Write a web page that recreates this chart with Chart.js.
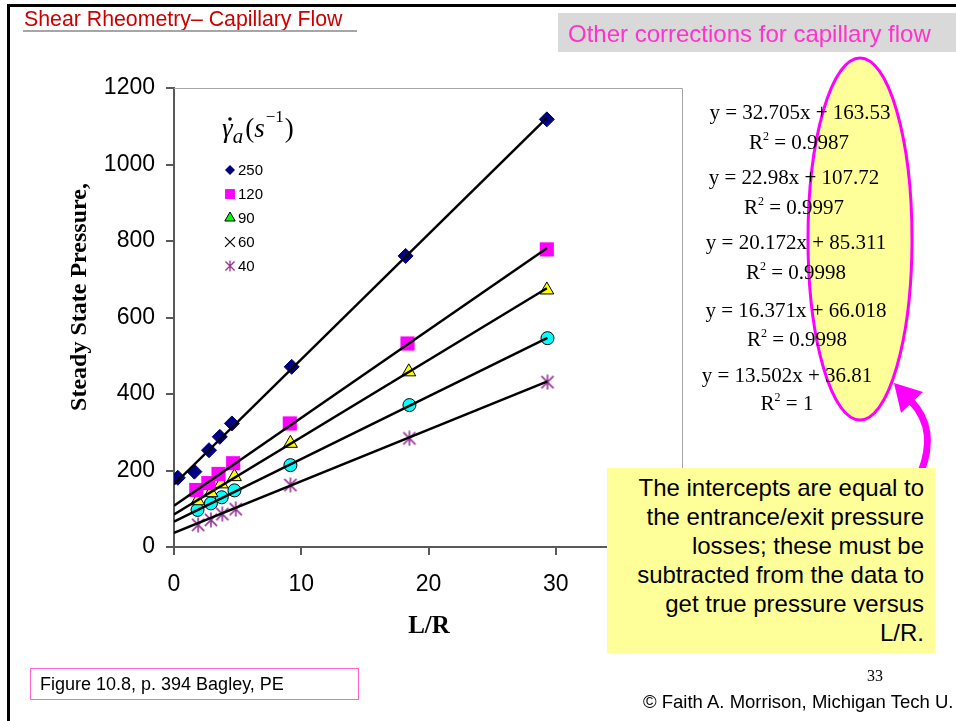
<!DOCTYPE html>
<html>
<head>
<meta charset="utf-8">
<script src="https://cdn.jsdelivr.net/npm/chart.js@4.4.0/dist/chart.umd.min.js"></script>
<style>
  html, body { margin: 0; padding: 0; background: #fff; }
  #slide { position: relative; width: 956px; height: 721px; overflow: hidden; font-family: "Liberation Sans", Arial, sans-serif; }
  #chart { position: absolute; left: 0; top: 0; }
  .abs { position: absolute; white-space: nowrap; }
  .eq { position: absolute; white-space: nowrap; font-family: "Liberation Serif", "Times New Roman", serif; font-size: 21px; line-height: 1; transform: translate(-50%, -50%); color: #000; }
  .eq sup { font-size: 12px; vertical-align: 9px; line-height: 0; }
</style>
</head>
<body>
<div id="slide">
  <canvas id="chart" width="956" height="721"></canvas>

  <!-- slide frame -->
  <div class="abs" style="left:7px;top:4px;width:949px;height:3px;background:#000;"></div>
  <div class="abs" style="left:7px;top:4px;width:3px;height:717px;background:#000;"></div>

  <div class="abs" style="left:24px;top:9px;font-size:21.3px;line-height:21px;color:#CC0000;">Shear Rheometry– Capillary Flow</div>
  <div class="abs" style="left:23px;top:30px;width:334px;height:2px;background:#A6A6A6;"></div>

  <div class="abs" style="left:558px;top:13px;width:398px;height:39px;background:#D9D9D9;"></div>
  <div class="abs" style="left:568px;top:13px;font-size:24px;line-height:41px;color:#FF33CC;">Other corrections for capillary flow</div>

  <svg class="abs" style="left:0;top:0;" width="956" height="721">
    <ellipse cx="860" cy="239" rx="52" ry="181" fill="#FFFF99" stroke="#FF00FF" stroke-width="3"/>
    <path d="M 921 472 C 931 446, 931 422, 911 401" fill="none" stroke="#FF00FF" stroke-width="7"/>
    <polygon points="894,383 901,413 923,392" fill="#FF00FF"/>
  </svg>

  <div id="eqs"></div>

  <div class="abs" style="left:607px;top:468px;width:317px;height:180px;padding:5px 11px 0 0;background:#FFFF99;text-align:right;font-size:24px;line-height:29px;color:#000;">The intercepts are equal to<br>the entrance/exit pressure<br>losses; these must be<br>subtracted from the data to<br>get true pressure versus<br>L/R.</div>

  <div class="abs" style="left:867px;top:668px;font-family:'Liberation Serif',serif;font-size:16px;line-height:16px;">33</div>
  <div class="abs" style="left:643px;top:692px;font-size:18.5px;line-height:20px;">© Faith A. Morrison, Michigan Tech U.</div>
  <div class="abs" style="left:30px;top:668px;width:318px;height:30px;border:1.5px solid #FF66CC;padding-left:9px;font-size:18px;line-height:30px;">Figure 10.8, p. 394 Bagley, PE</div>
</div>

<script>
// L/R and steady state pressure, one pair of arrays per shear rate
const lr250 = [0.3, 1.6, 2.75, 3.6, 4.55, 9.25, 18.2, 29.3];
const p250 = [181, 197, 253, 288, 323, 471, 761, 1118];
const lr120 = [1.75, 2.7, 3.5, 4.65, 9.1, 18.35, 29.3];
const p120 = [149, 167, 191, 219, 323, 532, 778];
const lr90 = [1.85, 2.9, 3.7, 4.75, 9.15, 18.45, 29.3];
const p90 = [121, 142, 165, 184, 271, 458, 672];
const lr60 = [1.85, 2.9, 3.75, 4.75, 9.15, 18.5, 29.35];
const p60 = [97, 114, 130, 148, 214, 371, 546];
const lr40 = [1.9, 2.9, 3.8, 4.85, 9.15, 18.5, 29.35];
const p40 = [58, 71, 86, 99, 162, 284, 431];

const shearRates = ['250', '120', '90', '60', '40'];
const slopes = [32.705, 22.98, 20.172, 16.371, 13.502];
const intercepts = [163.53, 107.72, 85.311, 66.018, 36.81];
const rSquared = [0.9987, 0.9997, 0.9998, 0.9998, 1];

const xMax = 40, xStep = 10;
const yMax = 1200, yStep = 200;

// equation label positions (centres)
const eqPos = [
  [800, 112, 799, 142], [794, 177, 794, 207], [796, 242, 796, 272],
  [796, 310, 797, 339], [787, 375, 787, 403]
];

(function () {
  'use strict';

  const eqBox = document.getElementById('eqs');
  slopes.forEach((m, i) => {
    const p = eqPos[i];
    eqBox.insertAdjacentHTML('beforeend',
      `<div class="eq" style="left:${p[0]}px;top:${p[1]}px;">y = ${m}x + ${intercepts[i]}</div>` +
      `<div class="eq" style="left:${p[2]}px;top:${p[3]}px;">R<sup>2</sup> = ${rSquared[i]}</div>`);
  });

  function asterisk(size, color, lw) {
    const c = document.createElement('canvas');
    c.width = size; c.height = size;
    const g = c.getContext('2d');
    const h = size / 2, d = size * 0.38;
    g.strokeStyle = color; g.lineWidth = lw;
    g.beginPath();
    g.moveTo(h - d, h - d); g.lineTo(h + d, h + d);
    g.moveTo(h + d, h - d); g.lineTo(h - d, h + d);
    g.moveTo(h, 0.5); g.lineTo(h, size - 0.5);
    g.stroke();
    return c;
  }

  const xs = [lr250, lr120, lr90, lr60, lr40];
  const ys = [p250, p120, p90, p60, p40];

  const markers = [
    { pointStyle: 'rectRot', pointRadius: 7.5, backgroundColor: '#000080', borderColor: '#000080', borderWidth: 1 },
    { pointStyle: 'rect', pointRadius: 10, backgroundColor: '#FF00FF', borderColor: '#FF00FF', borderWidth: 0 },
    { pointStyle: 'triangle', pointRadius: 8, backgroundColor: '#FFFF00', borderColor: '#000000', borderWidth: 1 },
    { pointStyle: 'circle', pointRadius: 6.5, backgroundColor: '#00FFFF', borderColor: '#000000', borderWidth: 1 },
    { pointStyle: asterisk(16, '#993399', 1.6), pointRadius: 8, backgroundColor: '#993399', borderColor: '#993399', borderWidth: 0 }
  ];

  const legendMarks = [
    { style: 'rectRot', r: 5, fill: '#000080', stroke: '#000080', bw: 0 },
    { style: 'rect', r: 7, fill: '#FF00FF', stroke: '#FF00FF', bw: 0 },
    { style: 'triangle', r: 6, fill: '#00FF00', stroke: '#000000', bw: 1 },
    { style: 'crossRot', r: 7, fill: '#000000', stroke: '#000000', bw: 1.2 },
    { style: asterisk(12, '#993399', 1.3), r: 6, fill: '#993399', stroke: '#993399', bw: 0 }
  ];

  const datasets = [];
  shearRates.forEach((name, i) => {
    const last = xs[i][xs[i].length - 1];
    datasets.push({
      label: 'fit ' + name,
      data: [{ x: 0, y: intercepts[i] }, { x: last, y: slopes[i] * last + intercepts[i] }],
      showLine: true,
      borderColor: '#000000',
      borderWidth: 2.5,
      pointRadius: 0,
      order: 0
    });
  });
  shearRates.forEach((name, i) => {
    datasets.push(Object.assign({
      label: name,
      data: xs[i].map((x, j) => ({ x: x, y: ys[i][j] })),
      showLine: false,
      order: 1
    }, markers[i]));
  });

  const decor = {
    id: 'decor',
    beforeDatasetsDraw(chart) {
      const { ctx, chartArea: a } = chart;
      ctx.save();
      ctx.strokeStyle = '#A6A6A6';
      ctx.lineWidth = 1;
      ctx.beginPath();
      ctx.moveTo(a.left, a.top + 0.5);
      ctx.lineTo(a.right - 0.5, a.top + 0.5);
      ctx.lineTo(a.right - 0.5, a.bottom);
      ctx.stroke();
      ctx.restore();
    },
    afterDraw(chart) {
      const ctx = chart.ctx;
      ctx.save();
      ctx.fillStyle = '#000';
      ctx.textAlign = 'center';
      ctx.textBaseline = 'middle';

      // axis titles
      ctx.font = 'bold 25px "Liberation Serif"';
      ctx.fillText('L/R', 429, 627);
      ctx.translate(80, 297);
      ctx.rotate(-Math.PI / 2);
      ctx.font = 'bold 24px "Liberation Serif"';
      ctx.fillText('Steady State Pressure,', 0, 0);
      ctx.setTransform(1, 0, 0, 1, 0, 0);

      // legend title: gamma-dot_a (s^-1)
      ctx.textAlign = 'left';
      ctx.textBaseline = 'alphabetic';
      let x = 222;
      const base = 137;
      ctx.font = 'italic 27px "Liberation Serif"';
      ctx.fillText('γ', x, base);
      ctx.beginPath();
      ctx.arc(x + 8, 119, 1.8, 0, Math.PI * 2);
      ctx.fill();
      x += ctx.measureText('γ').width;
      ctx.font = 'italic 21px "Liberation Serif"';
      ctx.fillText('a', x, base + 6);
      x += ctx.measureText('a').width + 2;
      ctx.font = '27px "Liberation Serif"';
      ctx.fillText('(', x, base);
      x += ctx.measureText('(').width;
      ctx.font = 'italic 27px "Liberation Serif"';
      ctx.fillText('s', x, base);
      x += ctx.measureText('s').width + 1;
      ctx.font = '17px "Liberation Serif"';
      ctx.fillText('−1', x, base - 15);
      x += ctx.measureText('−1').width + 1;
      ctx.font = '27px "Liberation Serif"';
      ctx.fillText(')', x, base);

      // legend entries
      ctx.font = '15px "Liberation Sans"';
      ctx.textBaseline = 'middle';
      shearRates.forEach((name, i) => {
        const m = legendMarks[i];
        const y = 170 + i * 24;
        ctx.fillStyle = m.fill;
        ctx.strokeStyle = m.stroke;
        ctx.lineWidth = m.bw;
        Chart.helpers.drawPoint(ctx, { pointStyle: m.style, radius: m.r, rotation: 0, borderWidth: m.bw }, 230, y);
        ctx.fillStyle = '#000';
        ctx.fillText(name, 238, y + 1);
      });
      ctx.restore();
    }
  };

  const axisColor = '#595959';

  new Chart(document.getElementById('chart').getContext('2d'), {
    type: 'scatter',
    data: { datasets: datasets },
    options: {
      responsive: false,
      animation: false,
      events: [],
      layout: { padding: { left: 74, top: 88, right: 273, bottom: 94 } },
      plugins: { legend: { display: false }, tooltip: { enabled: false } },
      scales: {
        x: {
          type: 'linear',
          min: 0, max: xMax,
          afterFit(scale) { scale.height = 80; },
          ticks: { stepSize: xStep, color: '#000', padding: 16, font: { family: 'Liberation Sans', size: 23 }, callback: v => String(v) },
          grid: { drawOnChartArea: false, drawTicks: true, tickLength: 8, color: axisColor, lineWidth: 2 },
          border: { display: true, color: axisColor, width: 2 }
        },
        y: {
          type: 'linear',
          min: 0, max: yMax,
          afterFit(scale) { scale.width = 100; },
          ticks: { stepSize: yStep, color: '#000', padding: 11, font: { family: 'Liberation Sans', size: 23 }, callback: v => String(v) },
          grid: { drawOnChartArea: false, drawTicks: true, tickLength: 8, color: axisColor, lineWidth: 2 },
          border: { display: true, color: axisColor, width: 2 }
        }
      }
    },
    plugins: [decor]
  });
})();
</script>
</body>
</html>
